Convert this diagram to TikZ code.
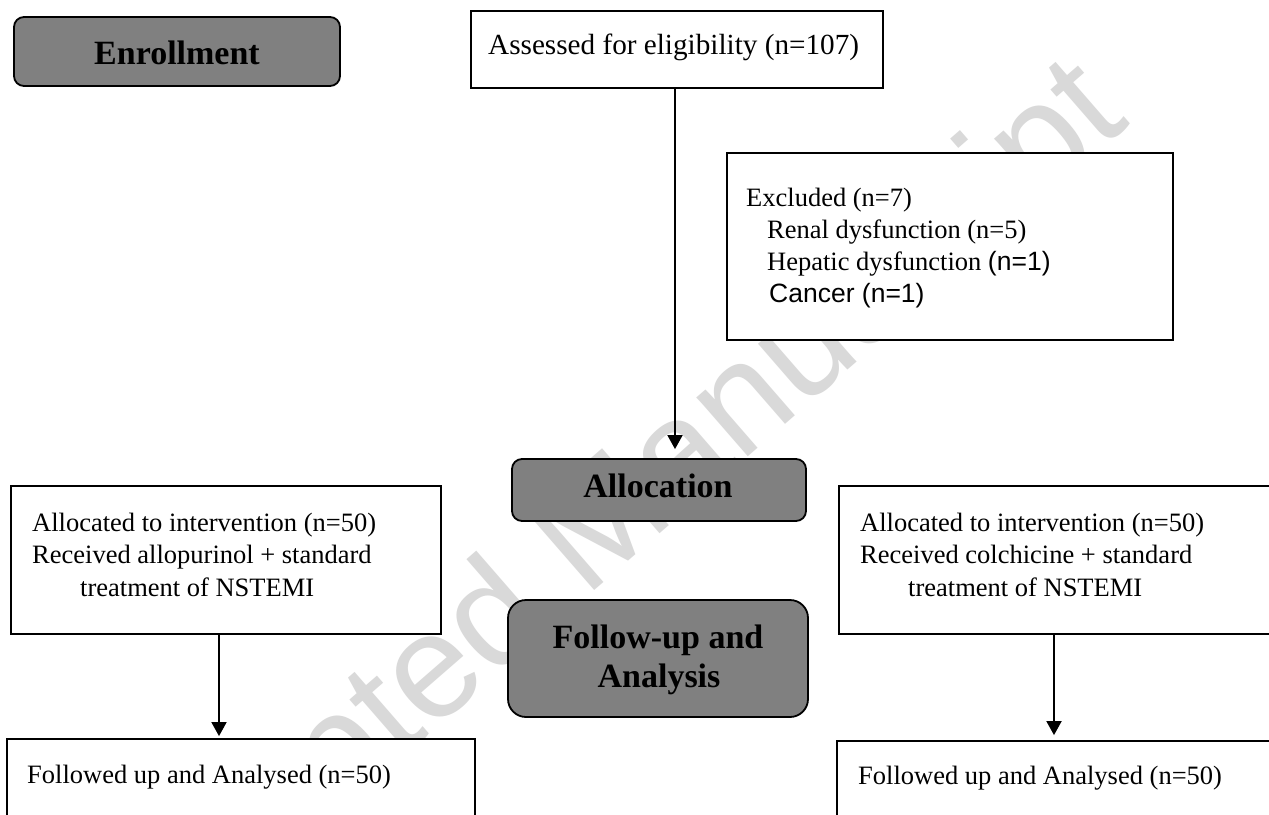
\documentclass[tikz,border=0pt]{standalone}
\usepackage{fontspec}
\setmainfont{Liberation Serif}
\newfontfamily\arsans{Liberation Sans}
\usetikzlibrary{arrows.meta}
\definecolor{hdrgray}{RGB}{128,128,128}
\definecolor{wmgray}{RGB}{217,217,217}
\tikzset{
  whitebox/.style={draw=black, line width=1.8pt, fill=white, inner sep=0pt},
  hdrbox/.style={draw=black, line width=1.8pt, fill=hdrgray, inner sep=0pt, rounded corners=10pt},
  bodytxt/.style={inner sep=0pt, anchor=base west, font=\fontsize{26.5}{32}\selectfont},
  hdrtxt/.style={inner sep=0pt, anchor=base, font=\fontsize{34}{40}\selectfont\bfseries},
  arr/.style={line width=1.8pt, -{Triangle[width=15pt,length=14pt]}}
}
\begin{document}
\begin{tikzpicture}[x=1pt,y=-1pt]
\clip (0,0) rectangle (1269,814);
\fill[white] (0,0) rectangle (1269,814);
% watermark
\node[inner sep=0pt, rotate=41, text=wmgray, font=\arsans\fontsize{148}{150}\selectfont] (wm) at (585,548) {Accepted Manuscript};
% boxes
\node[hdrbox, minimum width=326pt, minimum height=69pt] (enroll) at (177,51.5) {};
\node[whitebox, minimum width=412pt, minimum height=77pt] (assess) at (677,49.5) {};
\node[whitebox, minimum width=446pt, minimum height=187pt] (excl) at (950,246.5) {};
\node[hdrbox, minimum width=294pt, minimum height=62pt] (alloc) at (659,490) {};
\node[hdrbox, rounded corners=18pt, minimum width=300pt, minimum height=117pt] (follow) at (658,658.5) {};
\node[whitebox, minimum width=430pt, minimum height=148pt] (la) at (226,560) {};
\node[whitebox, minimum width=461pt, minimum height=148pt] (ra) at (1069.5,560) {};
\node[whitebox, minimum width=468pt, minimum height=101pt] (lb) at (241,789.5) {};
\node[whitebox, minimum width=463pt, minimum height=99pt] (rb) at (1068.5,790.5) {};
% connectors
\draw[arr, shorten >=9pt] ([xshift=-2pt]assess.south) -- ([xshift=-2pt]assess.south |- alloc.north);
\draw[arr, shorten >=2pt] ([xshift=-7pt]la.south) -- ([xshift=-7pt]la.south |- lb.north);
\draw[arr, shorten >=5pt] ([xshift=-15.5pt]ra.south) -- ([xshift=-15.5pt]ra.south |- rb.north);
% texts
\node[hdrtxt] (tenroll) at (177,64) {Enrollment};
\node[bodytxt, font=\fontsize{29.2}{35}\selectfont] (tassess) at (488,54) {Assessed for eligibility (n=107)};
\node[bodytxt] (tex1) at (746,206) {Excluded (n=7)};
\node[bodytxt] (tex2) at (767,238) {Renal dysfunction (n=5)};
\node[bodytxt] (tex3) at (767,270) {Hepatic dysfunction {\arsans (n=1)}};
\node[bodytxt] (tex4) at (769,302) {\arsans Cancer (n=1)};
\node[hdrtxt] (talloc) at (658,497) {Allocation};
\node[hdrtxt] (tfol1) at (658,648) {Follow-up and};
\node[hdrtxt] (tfol2) at (659,687) {Analysis};
\node[bodytxt] (tla1) at (32,531) {Allocated to intervention (n=50)};
\node[bodytxt] (tla2) at (32,563) {Received allopurinol + standard};
\node[bodytxt] (tla3) at (80,596) {treatment of NSTEMI};
\node[bodytxt] (tra1) at (860,531) {Allocated to intervention (n=50)};
\node[bodytxt] (tra2) at (860,563) {Received colchicine + standard};
\node[bodytxt] (tra3) at (908,596) {treatment of NSTEMI};
\node[bodytxt] (tlb) at (27,783) {Followed up and Analysed (n=50)};
\node[bodytxt] (trb) at (858,784) {Followed up and Analysed (n=50)};
\end{tikzpicture}
\end{document}
